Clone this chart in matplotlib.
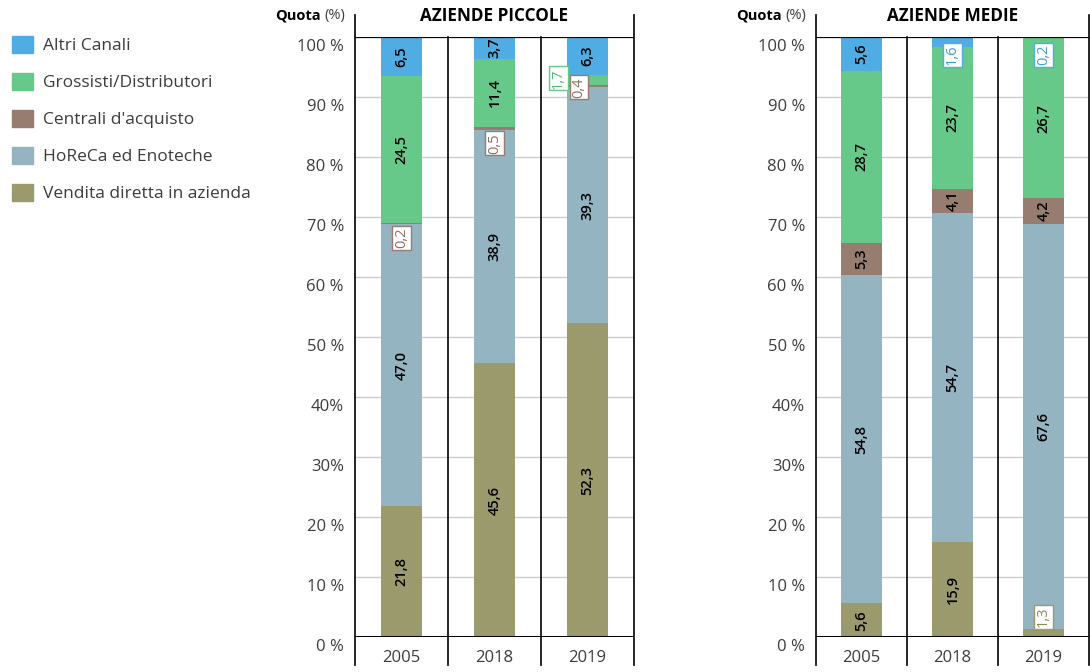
import matplotlib.pyplot as plt
from matplotlib.patches import Patch
from matplotlib.transforms import ScaledTranslation

plt.rcParams['font.family'] = ['Open Sans', 'DejaVu Sans']

# data
years = ["2005", "2018", "2019"]
channels = ["Vendita diretta in azienda", "HoReCa ed Enoteche", "Centrali d'acquisto",
            "Grossisti/Distributori", "Altri Canali"]
colors = ["#9a9a6c", "#94b4c1", "#967d70", "#66c98a", "#4fade3"]
text_colors = ["#8a8a55", "#7f9fad", "#8a6f62", "#4fbf78", "#3c9fd9"]

piccole = {
    "Vendita diretta in azienda": [21.8, 45.6, 52.3],
    "HoReCa ed Enoteche": [47.0, 38.9, 39.3],
    "Centrali d'acquisto": [0.2, 0.5, 0.4],
    "Grossisti/Distributori": [24.5, 11.4, 1.7],
    "Altri Canali": [6.5, 3.7, 6.3],
}
medie = {
    "Vendita diretta in azienda": [5.6, 15.9, 1.3],
    "HoReCa ed Enoteche": [54.8, 54.7, 67.6],
    "Centrali d'acquisto": [5.3, 4.1, 4.2],
    "Grossisti/Distributori": [28.7, 23.7, 26.7],
    "Altri Canali": [5.6, 1.6, 0.2],
}

yticks = [0, 10, 20, 30, 40, 50, 60, 70, 80, 90, 100]
ytick_labels = ["0 %", "10 %", "20 %", "30%", "40%", "50 %", "60 %", "70 %", "80 %", "90 %", "100 %"]

# small segments get a boxed label: (channel, year index, dx, y)
small_piccole = [("Centrali d'acquisto", 0, 0.0, 66.5), ("Centrali d'acquisto", 1, 0.0, 82.3),
                 ("Grossisti/Distributori", 2, -0.31, 93.1), ("Centrali d'acquisto", 2, -0.09, 91.6)]
small_medie = [("Altri Canali", 1, 0.0, 97.0), ("Altri Canali", 2, 0.0, 97.0),
               ("Vendita diretta in azienda", 2, 0.0, 3.4)]

fig = plt.figure(figsize=(10.9, 6.72), dpi=100)
W, H = 1090, 672
bar_w = 0.44
grey = "#3c3c3c"


def fmt(v):
    return f"{v:.1f}".replace(".", ",")


def draw_panel(rect, data, title, small):
    ax = fig.add_axes(rect)
    ax.set_xlim(-0.5, 2.5)
    ax.set_ylim(0, 100)
    for s in ax.spines.values():
        s.set_visible(False)

    for y in yticks[1:-1]:
        ax.axhline(y, color="#cccccc", lw=1, zorder=0)

    small_keys = {(c, i) for c, i, _, _ in small}
    x = list(range(len(years)))
    bottom = [0.0] * len(years)
    for ch, col in zip(channels, colors):
        vals = data[ch]
        ax.bar(x, vals, bar_w, bottom=bottom, color=col, zorder=2)
        for i, v in enumerate(vals):
            if (ch, i) not in small_keys:
                ax.text(i, bottom[i] + v / 2, fmt(v), rotation=90, ha="center", va="center",
                        fontsize=10.5, fontweight="semibold", color="black", zorder=4)
        bottom = [b + v for b, v in zip(bottom, vals)]

    for ch, i, dx, y in small:
        k = channels.index(ch)
        ax.text(i + dx, y, fmt(data[ch][i]), rotation=90, ha="center", va="center",
                fontsize=10.5, color=text_colors[k], zorder=5,
                bbox=dict(boxstyle="square,pad=0.12", fc="white", ec=colors[k], lw=1))

    # frame lines
    ax.axhline(100, color="black", lw=1.6, zorder=3)
    ax.axhline(0, color="black", lw=2.2, zorder=3)
    for xv in [-0.5, 0.5, 1.5, 2.5]:
        top = 103.7 if xv in (-0.5, 2.5) else 100
        ax.plot([xv, xv], [-4.7, top], color="black", lw=1.2, clip_on=False, zorder=3)

    ax.set_yticks(yticks)
    ax.set_yticklabels(ytick_labels, fontsize=12, color=grey)
    ax.tick_params(axis="y", length=0, pad=8)
    off = ScaledTranslation(0, -6 / 72, fig.dpi_scale_trans)
    for lab in ax.get_yticklabels():
        lab.set_transform(lab.get_transform() + off)

    ax.set_xticks(x)
    ax.set_xticklabels(years, fontsize=12, color=grey)
    ax.tick_params(axis="x", length=0, pad=9)

    ax.text(1, 103.5, title, ha="center", va="center", fontsize=12.3, fontweight="bold")
    ax.annotate("(%)", xy=(-0.5, 103.5), xytext=(-10, 0), textcoords="offset pixels",
                ha="right", va="center", fontsize=10.5, color=grey,
                annotation_clip=False)
    ax.annotate("Quota", xy=(-0.5, 103.5), xytext=(-34, 0), textcoords="offset pixels",
                ha="right", va="center", fontsize=10.5, fontweight="bold",
                annotation_clip=False)
    return ax


draw_panel([355 / W, 35 / H, 279 / W, 600 / H], piccole, "AZIENDE PICCOLE", small_piccole)
draw_panel([816 / W, 35 / H, 273 / W, 600 / H], medie, "AZIENDE MEDIE", small_medie)

handles = [Patch(color=c, label=ch) for ch, c in zip(channels[::-1], colors[::-1])]
leg = fig.legend(handles=handles, loc="upper left", bbox_to_anchor=(0.0, 0.965),
                 frameon=False, fontsize=12.5, handlelength=1.2, handleheight=1.2,
                 labelspacing=1.05, handletextpad=0.55, borderaxespad=0.3)
for t in leg.get_texts():
    t.set_color(grey)

fig.savefig("out.png", dpi=100)
